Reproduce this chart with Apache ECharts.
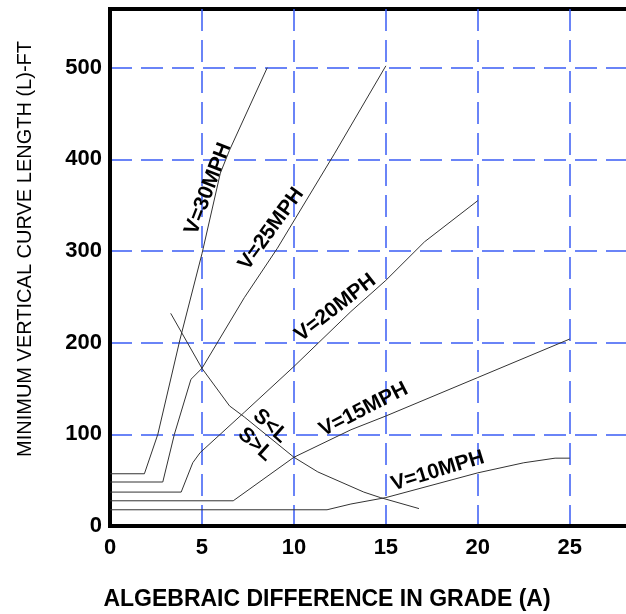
<!DOCTYPE html>
<html><head><meta charset="utf-8">
<script src="https://cdn.jsdelivr.net/npm/echarts@6/dist/echarts.min.js"></script>
<style>html,body{margin:0;padding:0;background:#fff}#c{width:626px;height:614px}</style>
</head><body><div id="c"></div>
<script>
// Data (A = algebraic difference in grade, L = minimum vertical curve length ft)
var xTicks = [0, 5, 10, 15, 20, 25];
var yTicks = [0, 100, 200, 300, 400, 500];
var v30 = [[0,57],[1.87,57],[2.6,100],[3.8,203],[5.0,297],[6.0,385],[6.5,410],[8.55,500]];
var v25 = [[0,48],[2.87,48],[3.5,100],[4.4,160],[5.0,172],[7.3,249],[9.1,303],[12.2,406],[15.0,502]];
var v20 = [[0,37],[3.87,37],[4.5,69],[4.9,80],[7.3,124],[10,174],[13.1,234],[15,268],[17.1,310],[20,355]];
var v15 = [[0,27.5],[6.7,27.5],[10,75],[13.1,105],[15,120],[20,162],[25,204]];
var v10 = [[0,17.7],[11.8,17.7],[13.1,24],[15,31],[20,58],[22.5,69],[24.2,74],[25,74]];
var sEqL = [[3.3,232],[5,172],[6.5,131],[7.3,119],[10,75],[11.3,59],[13.8,37],[14.7,31],[16.8,19]];
var curveNames = ['V=30MPH','V=25MPH','V=20MPH','V=15MPH','V=10MPH','S=L'];
// label anchors in data coordinates and rotation (deg)
var labelText = ['V=30MPH','V=25MPH','V=20MPH','V=15MPH','V=10MPH','S<L','S>L'];
var labelPos = [[5.34,368],[8.77,324],[12.26,238],[13.79,127],[17.82,60],[8.72,109],[7.9,89]];
var labelRot = [69,54,38,27,17,-42,-42];

var FONT = 'Liberation Sans, Arial, sans-serif';
var chart = echarts.init(document.getElementById('c'));
var curves = [v30, v25, v20, v15, v10, sEqL];
var series = curves.map(function(d, i){
  return {name: curveNames[i], type:'line', data:d, showSymbol:false, symbol:'none',
    lineStyle:{color:'#333', width:1}, silent:true, animation:false};
});
var gridLine = {show:true, showMinLine:false, showMaxLine:false,
  lineStyle:{color:'#3a5cf5', width:1.5, type:[22,9]}};
chart.setOption({
  animation:false,
  grid:{left:110, width:526, top:9, height:517, outerBoundsMode:'none', containLabel:false,
    show:true, borderColor:'#000', borderWidth:4},
  xAxis:{type:'value', min:0, max:28.6, interval:5,
    axisLine:{show:true, lineStyle:{color:'#000', width:4}},
    axisTick:{show:false}, splitLine:gridLine,
    axisLabel:{color:'#000', fontSize:22, fontWeight:'bold', fontFamily:FONT, margin:11,
      formatter:function(v){return xTicks.indexOf(v)>=0 ? String(v) : '';}}},
  yAxis:{type:'value', min:0, max:564, interval:100,
    axisLine:{show:true, lineStyle:{color:'#000', width:4}},
    axisTick:{show:false}, splitLine:gridLine,
    axisLabel:{color:'#000', fontSize:22, fontWeight:'bold', fontFamily:FONT, margin:8,
      formatter:function(v){return yTicks.indexOf(v)>=0 ? String(v) : '';}}},
  series:series
});
var g = [];
labelText.forEach(function(t, i){
  var p = chart.convertToPixel({gridIndex:0}, labelPos[i]);
  g.push({type:'text', x:p[0], y:p[1], rotation:labelRot[i]*Math.PI/180,
    style:{text:t, fill:'#000', font:'bold 21px '+FONT, align:'center', verticalAlign:'middle'}});
});
g.push({type:'text', x:25, y:249, rotation:Math.PI/2,
  style:{text:'MINIMUM VERTICAL CURVE LENGTH (L)-FT', fill:'#000', font:'20px '+FONT, align:'center', verticalAlign:'middle'}});
g.push({type:'text', x:327, y:600,
  style:{text:'ALGEBRAIC DIFFERENCE IN GRADE (A)', fill:'#000', font:'bold 23px '+FONT, align:'center', verticalAlign:'middle'}});
chart.setOption({graphic:g});
</script></body></html>
